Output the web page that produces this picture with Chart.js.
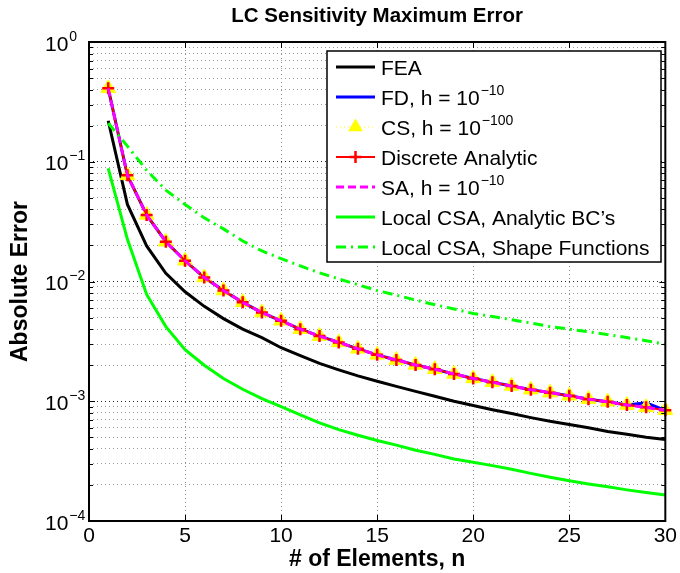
<!DOCTYPE html>
<html><head><meta charset="utf-8">
<script src="https://cdn.jsdelivr.net/npm/chart.js@4"></script>
<style>html,body{margin:0;padding:0;background:#fff;}canvas{display:block;}</style>
</head><body>
<canvas id="c" width="680" height="573"></canvas>
<script>
// ---------------- data ----------------
const elements = [1,2,3,4,5,6,7,8,9,10,11,12,13,14,15,16,17,18,19,20,21,22,23,24,25,26,27,28,29,30];
const feaError = [0.22,0.044,0.0198,0.0117,0.0082,0.0062,0.0049,0.0040,0.0034,0.0028,0.0024,0.00207,0.00183,0.00163,0.00147,0.00133,0.00121,0.00110,0.00100,0.00092,0.00085,0.00079,0.00073,0.00068,0.00064,0.00060,0.00056,0.00053,0.00050,0.00048];
const fdError = [0.41,0.077,0.036,0.0215,0.0149,0.0108,0.0084,0.0067,0.0055,0.0047,0.0040,0.0035,0.0031,0.00274,0.00244,0.00221,0.00201,0.00185,0.00169,0.00155,0.00144,0.00134,0.00125,0.00118,0.00111,0.00104,0.00099,0.00093,0.00097,0.00084];
const csError = [0.41,0.077,0.036,0.0215,0.0149,0.0108,0.0084,0.0067,0.0055,0.0047,0.0040,0.0035,0.0031,0.00274,0.00244,0.00221,0.00201,0.00185,0.00169,0.00155,0.00144,0.00134,0.00125,0.00118,0.00111,0.00104,0.00099,0.00093,0.00089,0.00084];
const discreteAnalyticError = [0.41,0.077,0.036,0.0215,0.0149,0.0108,0.0084,0.0067,0.0055,0.0047,0.0040,0.0035,0.0031,0.00274,0.00244,0.00221,0.00201,0.00185,0.00169,0.00155,0.00144,0.00134,0.00125,0.00118,0.00111,0.00104,0.00099,0.00093,0.00089,0.00084];
const saError = [0.41,0.077,0.036,0.0215,0.0149,0.0108,0.0084,0.0067,0.0055,0.0047,0.0040,0.0035,0.0031,0.00274,0.00244,0.00221,0.00201,0.00185,0.00169,0.00155,0.00144,0.00134,0.00125,0.00118,0.00111,0.00104,0.00099,0.00093,0.00089,0.00084];
const localCsaAnalyticBC = [0.088,0.0225,0.0078,0.0042,0.0027,0.0020,0.00155,0.00126,0.00105,0.00090,0.00077,0.00066,0.00058,0.00052,0.00047,0.00043,0.00039,0.00036,0.00033,0.00031,0.00029,0.00027,0.00025,0.000232,0.000217,0.000204,0.000193,0.000182,0.000173,0.000165];
const localCsaShapeFunctions = [0.21,0.135,0.085,0.058,0.044,0.034,0.0275,0.0218,0.0180,0.0155,0.0135,0.0118,0.0105,0.0094,0.0084,0.0077,0.0070,0.0064,0.0059,0.0054,0.0051,0.0048,0.0045,0.0042,0.0040,0.0038,0.0036,0.0034,0.0032,0.0030];
const xTickValues = [0,5,10,15,20,25,30];
const yTickExponents = [0,-1,-2,-3,-4];
const seriesLabels = [['FEA',''],['FD, h = 10','\u221210'],['CS, h = 10','\u2212100'],['Discrete Analytic',''],['SA, h = 10','\u221210'],['Local CSA, Analytic BC\u2019s',''],['Local CSA, Shape Functions','']];

// ---------------- helpers ----------------
const FONT = "'Liberation Sans', Arial, Helvetica, sans-serif";
const pts = arr => elements.map((n,i)=>({x:n,y:arr[i]}));
const yTickValues = [];
yTickExponents.slice().sort((a,b)=>a-b).forEach(e=>{
  for (let m=1;m<=9;m++){ if (e===0 && m>1) break; yTickValues.push(m*Math.pow(10,e)); }
});
const isPow10 = v => Math.abs(Math.log10(v) - Math.round(Math.log10(v))) < 1e-9;

const decor = {
  id:'matlabDecor',
  afterDatasetsDraw(chart){
    const {ctx, chartArea:a, scales:{x,y}} = chart;
    ctx.save();
    ctx.strokeStyle='#000'; ctx.lineWidth=1; ctx.setLineDash([]);
    ctx.beginPath();
    yTickValues.forEach(v=>{
      const py = Math.round(y.getPixelForValue(v))+0.5;
      const len = isPow10(v)?6:4;
      ctx.moveTo(a.left,py); ctx.lineTo(a.left+len,py);
      ctx.moveTo(a.right,py); ctx.lineTo(a.right-len,py);
    });
    xTickValues.forEach(v=>{
      const px = Math.round(x.getPixelForValue(v))+0.5;
      ctx.moveTo(px,a.bottom); ctx.lineTo(px,a.bottom-6);
      ctx.moveTo(px,a.top); ctx.lineTo(px,a.top+6);
    });
    ctx.stroke();
    ctx.lineWidth=2;
    ctx.strokeRect(a.left, a.top, a.right-a.left, a.bottom-a.top);
    ctx.fillStyle='#000'; ctx.textBaseline='alphabetic'; ctx.textAlign='left';
    yTickExponents.forEach(e=>{
      const py = y.getPixelForValue(Math.pow(10,e));
      ctx.font = '21px '+FONT;
      ctx.fillText('10', 45, py+8.5);
      const w = ctx.measureText('10').width;
      ctx.font = '14px '+FONT;
      ctx.fillText(e===0?'0':'\u2212'+Math.abs(e), 45+w+1, py-1.5);
    });
    ctx.restore();
  },
  afterDraw(chart){
    const {ctx} = chart;
    ctx.save();
    const bx=327, by=51, bw=334, bh=211;
    ctx.fillStyle='#fff'; ctx.fillRect(bx,by,bw,bh);
    ctx.strokeStyle='#000'; ctx.lineWidth=1.5; ctx.setLineDash([]);
    ctx.strokeRect(bx,by,bw,bh);
    chart.data.datasets.forEach((d,i)=>{
      const ry = 67 + 30*i;
      ctx.save();
      ctx.strokeStyle=d.borderColor; ctx.lineWidth=d.borderWidth;
      ctx.setLineDash(d.borderDash||[]);
      ctx.beginPath(); ctx.moveTo(336,ry); ctx.lineTo(375,ry); ctx.stroke();
      ctx.setLineDash([]);
      const cx=355.5;
      if (d.pointStyle==='triangle'){
        const r=d.pointRadius;
        ctx.fillStyle=d.pointBackgroundColor;
        ctx.beginPath();
        ctx.moveTo(cx, ry-r); ctx.lineTo(cx+r*0.866, ry+r*0.5); ctx.lineTo(cx-r*0.866, ry+r*0.5); ctx.closePath();
        ctx.fill();
      } else if (d.pointStyle==='cross'){
        const r=d.pointRadius;
        ctx.strokeStyle=d.pointBorderColor; ctx.lineWidth=d.pointBorderWidth;
        ctx.beginPath(); ctx.moveTo(cx-r,ry); ctx.lineTo(cx+r,ry); ctx.moveTo(cx,ry-r); ctx.lineTo(cx,ry+r); ctx.stroke();
      }
      ctx.restore();
      const [base,sup] = seriesLabels[i];
      ctx.fillStyle='#000'; ctx.textBaseline='alphabetic'; ctx.textAlign='left';
      ctx.font='21px '+FONT;
      ctx.fillText(base, 381, ry+7.5);
      if (sup){
        const w = ctx.measureText(base).width;
        ctx.font='14px '+FONT;
        ctx.fillText(sup, 381+w+1, ry-2.5);
      }
    });
    ctx.restore();
  }
};

new Chart(document.getElementById('c'), {
  type:'line',
  data:{ datasets:[
    {label:seriesLabels[0].join(''), data:pts(feaError), borderColor:'#000000', backgroundColor:'#000000', borderWidth:3, pointRadius:0, order:7},
    {label:seriesLabels[1].join(''), data:pts(fdError), borderColor:'#0000ff', backgroundColor:'#0000ff', borderWidth:3, pointRadius:0, order:6},
    {label:seriesLabels[2].join(''), data:pts(csError), borderColor:'#ffff00', backgroundColor:'#ffff00', borderWidth:1, borderDash:[1,3], pointStyle:'triangle', pointRadius:8.5, pointBackgroundColor:'#ffff00', pointBorderColor:'#ffff00', pointBorderWidth:1, order:5, clip:false},
    {label:seriesLabels[3].join(''), data:pts(discreteAnalyticError), borderColor:'#ff0000', backgroundColor:'#ff0000', borderWidth:2, pointStyle:'cross', pointRadius:6, pointBorderColor:'#ff0000', pointBorderWidth:2.5, order:4, clip:false},
    {label:seriesLabels[4].join(''), data:pts(saError), borderColor:'#ff00ff', backgroundColor:'#ff00ff', borderWidth:3, borderDash:[8,4], pointRadius:0, order:3},
    {label:seriesLabels[5].join(''), data:pts(localCsaAnalyticBC), borderColor:'#00ff00', backgroundColor:'#00ff00', borderWidth:3, pointRadius:0, order:2},
    {label:seriesLabels[6].join(''), data:pts(localCsaShapeFunctions), borderColor:'#00ff00', backgroundColor:'#00ff00', borderWidth:3, borderDash:[10,5,2,5], pointRadius:0, order:1}
  ]},
  options:{
    responsive:false, animation:false, devicePixelRatio:1,
    layout:{padding:{left:0,right:12,top:0,bottom:0}},
    plugins:{
      legend:{display:false}, tooltip:{enabled:false},
      title:{display:true, fullSize:false, text:'LC Sensitivity Maximum Error', color:'#000', font:{family:FONT,size:20.5,weight:'bold'}, padding:{top:4,bottom:13.4}}
    },
    scales:{
      x:{type:'linear', min:0, max:30,
        afterBuildTicks(s){ s.ticks = xTickValues.map(v=>({value:v})); },
        ticks:{color:'#000', font:{family:FONT,size:21}, padding:3, maxRotation:0, autoSkip:false},
        grid:{color:'#8a8a8a', lineWidth:1, drawTicks:false},
        border:{display:false, dash:[1,3]},
        title:{display:true, text:'# of Elements, n', color:'#000', font:{family:FONT,size:23,weight:'bold'}, padding:{top:0,bottom:0}},
        afterFit(s){ s.height = 52; }
      },
      y:{type:'logarithmic', min:1e-4, max:1,
        afterBuildTicks(s){ s.ticks = yTickValues.map(v=>({value:v})); },
        ticks:{display:false},
        grid:{color:c=>(c.tick && isPow10(c.tick.value))?'#222':'#9a9a9a', lineWidth:1, drawTicks:false},
        border:{display:false, dash:[1,3]},
        title:{display:true, text:'Absolute Error', color:'#000', font:{family:FONT,size:23,weight:'bold'}, padding:{top:7,bottom:0}},
        afterFit(s){ s.width = 89; }
      }
    }
  },
  plugins:[decor]
});
</script>
</body></html>
